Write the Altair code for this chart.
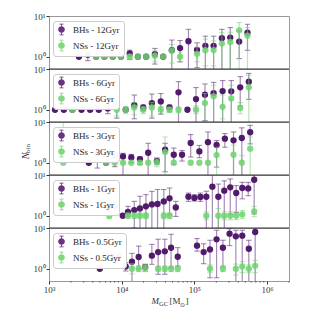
import altair as alt
import pandas as pd

SERIF = "Liberation Serif"
PURPLE = "#521a6b"
GREEN = "#6fd26f"
TXT = "#333333"

AGES = ["12Gyr", "6Gyr", "3Gyr", "1Gyr", "0.5Gyr"]

# ---------- 12 Gyr ----------
M_12 = [2580, 3420, 4450, 5780, 7530, 9770, 12900, 16700, 21700, 28600, 37200,
        48900, 63500, 82800, 108600, 141600, 183700, 238800, 311200, 413000, 537000]
BH_12 = [1.0, 1.12, 1.0, 1.0, 1.0, 1.0, 1.2, 1.0, 1.0, 1.16, 1.0, 1.45, 1.63, 2.4,
         1.48, 1.85, 1.85, 2.85, 2.95, 2.36, 3.9]
BH_12_LO = [None, 0.8, None, None, None, None, 0.85, None, None, 0.66, None, 0.3,
            0.75, 0.3, 0.54, 0.3, 0.3, 0.3, 0.3, 0.9, 1.44]
BH_12_HI = [None, 1.4, None, None, None, None, 1.45, None, None, 1.6, None, 2.57,
            2.5, 4.7, 2.2, 3.2, 3.2, 4.7, 5.2, 4.3, 6.25]
NS_12 = [None, None, 1.0, 1.0, 1.0, 1.0, 1.0, 1.0, 1.0, 1.06, 1.0, 1.4, 1.0, None,
         1.18, 1.44, 1.46, 2.1, 2.3, 4.45, 3.3]
NS_12_LO = [None, None, None, None, None, None, 0.88, None, None, 0.75, None, 0.7,
            0.75, None, 0.75, 0.6, 0.6, 0.3, 0.3, 0.3, 0.3]
NS_12_HI = [None, None, None, None, None, None, 1.15, None, None, 1.4, None, 2.0,
            1.3, None, 1.7, 2.7, 2.45, 3.9, 4.0, 6.9, 5.2]

# ---------- 6 Gyr ----------
M_6 = [1210, 1600, 2100, 2800, 3680, 4840, 6430, 8550, 11350, 14890, 19770, 26000,
       34500, 45500, 60400, 80200, 105200, 139600, 183700, 244300, 321400, 426600, 559800]
BH_6 = [1.0, 1.0, 1.0, 1.0, 1.0, 1.0, 1.08, 1.2, 1.0, 1.3, 1.14, 1.46, 1.6, 1.14,
        2.67, 1.0, 1.83, 2.34, 2.57, 2.87, 2.83, 3.54, 4.88]
BH_6_LO = [None, None, None, None, None, None, 0.8, 0.62, None, 0.6, 0.95, 0.62,
           0.78, 0.9, 0.3, None, 0.3, 0.54, 0.45, 0.3, 0.45, 1.25, 1.8]
BH_6_HI = [None, None, None, None, None, None, 1.33, 1.66, None, 2.3, 1.3, 2.43,
           2.5, 1.3, 4.9, None, 3.5, 4.3, 4.7, 5.2, 5.2, 6.5, 7.8]
NS_6 = [None, None, 1.0, None, None, None, None, 1.0, 1.0, 1.14, 1.0, 1.14, 1.0,
        1.0, 1.0, None, 1.0, 1.46, 2.13, 1.18, 1.9, 1.1, 3.54]
NS_6_LO = [None, None, None, None, None, None, None, 0.7, 0.8, 0.75, 0.8, 0.7, 0.8,
           0.85, 0.85, None, 0.8, 0.5, 0.3, 0.6, 0.3, 0.8, 0.3]
NS_6_HI = [None, None, None, None, None, None, None, 1.3, 1.2, 1.5, 1.2, 1.5, 1.2,
           1.15, 1.15, None, 1.25, 2.5, 4.0, 2.3, 4.0, 1.5, 7.0]

# ---------- 3 Gyr ----------
M_3 = [1570, 3530, 4630, 6100, 8020, 10420, 13550, 17820, 23120, 30480, 39540,
       52000, 67600, 88900, 116950, 153500, 201800, 262400, 345100, 448700, 584800]
BH_3 = [None, 1.0, 1.63, 1.0, 1.49, 1.43, 1.35, 1.23, 1.76, 1.1, 2.09, 1.57, 1.57,
        3.05, 1.9, 3.2, 2.72, 3.9, 3.54, 4.04, 5.6]
BH_3_LO = [None, None, 0.74, None, 0.8, 0.3, 1.0, 0.9, 0.3, 0.9, 0.6, 0.9, 1.1,
           1.38, 1.33, 0.3, 0.78, 2.4, 0.3, 0.3, 2.9]
BH_3_HI = [None, None, 2.9, None, 1.8, 1.7, 1.6, 1.4, 3.0, 1.3, 3.0, 2.3, 2.0,
           4.9, 2.66, 5.7, 3.5, 5.2, 5.7, 7.2, 8.3]
NS_3 = [1.0, None, None, 1.0, 1.0, 1.0, 1.0, 1.0, 1.0, 1.04, 1.83, 1.0, None, 1.0,
        1.0, 1.0, 1.54, None, 1.57, 1.0, 2.21]
NS_3_LO = [1.0, None, None, None, None, None, None, None, None, 0.8, 0.3, None,
           None, None, None, None, 0.3, None, 0.3, 0.3, 0.3]
NS_3_HI = [15.0, None, None, None, None, None, None, None, None, 1.35, 4.3, None,
           None, None, None, None, 2.4, None, 2.7, 1.5, 4.3]

# ---------- 1 Gyr ----------
M_1 = [6760, 8170, 10330, 12190, 14890, 17820, 21530, 26000, 31120, 37930, 45500,
       55460, 82800, 100000, 120800, 145900, 176600, 213300, 257600, 311200, 375800,
       455000, 549500, 663700]
BH_1 = [1.7, 1.7, 1.0, 1.25, 1.38, 1.51, 1.70, 1.90, 1.94, 2.25, 2.67, 1.60, 2.93,
        2.72, 2.88, 2.93, 5.17, 2.93, 4.12, 4.97, 3.61, 4.79, 4.69, 7.66]
BH_1_LO = [1.28, 1.28, None, 0.96, 0.5, 0.3, 0.3, 0.3, 0.3, 0.3, 1.06, 0.96, 2.25,
           2.3, 2.25, 0.3, 0.3, 0.3, 0.3, 1.1, 1.2, 2.6, 3.1, 1.1]
BH_1_HI = [2.25, 2.25, None, 1.7, 2.25, 3.0, 3.3, 3.96, 4.4, 4.4, 4.8, 2.25, 3.6,
           3.3, 3.6, 4.0, 12.0, 6.0, 7.2, 8.0, 5.5, 6.6, 6.6, 12.0]
NS_1 = [1.0, None, None, 1.0, 1.0, 1.0, 1.0, None, None, 1.0, 1.0, None, None, None,
        None, 1.0, None, 1.0, 1.0, 1.0, 1.0, 1.08, None, 1.28]
NS_1_LO = [0.85, None, None, 0.85, 0.85, 0.85, 0.85, None, None, 0.85, 0.85, None,
           None, None, None, 0.8, None, 0.5, 0.8, 0.8, 0.8, 0.85, None, 0.95]
NS_1_HI = [1.17, None, None, 1.17, 1.17, 1.17, 1.17, None, None, 1.17, 1.17, None,
           None, None, None, 1.25, None, 1.5, 1.25, 1.25, 1.25, 1.35, None, 1.7]

# ---------- 0.5 Gyr ----------
M_05 = [5000, 7600, 9100, 11350, 13840, 17100, 21040, 26000, 31700, 39170, 47750,
        59020, 108600, 134000, 163700, 201800, 246600, 304800, 371500, 455000,
        559800, 685500]
BH_05 = [1.0, 2.0, 2.0, 1.14, 1.49, 1.94, 1.1, 2.09, 2.57, 2.67, 3.28, 1.97, 3.68,
         2.57, 2.98, 5.26, 3.28, 7.25, 6.23, 6.47, 3.1, 7.97]
BH_05_LO = [None, 1.6, 1.6, 0.88, 0.3, 1.0, 0.88, 1.28, 0.73, 0.73, 1.06, 1.16, 2.7,
            1.33, 0.6, 0.6, 1.1, 3.7, 0.3, 0.3, 0.3, 0.3]
BH_05_HI = [None, 2.6, 2.6, 1.4, 2.38, 3.6, 1.28, 3.96, 5.3, 5.3, 7.0, 3.3, 5.5,
            4.1, 5.0, 8.8, 5.0, 9.6, 8.8, 8.8, 5.0, 12.0]
NS_05 = [None, None, None, None, 1.0, 1.0, 1.06, None, 1.0, 1.0, 1.0, 1.0, None,
         None, 1.0, None, 1.0, None, 1.0, 1.14, 1.0, 1.18]
NS_05_LO = [None, None, None, None, 0.75, 0.85, 0.85, None, 0.85, 0.85, 0.85, 0.85,
            None, None, 0.8, None, 0.85, None, 0.7, 0.8, 0.8, 0.8]
NS_05_HI = [None, None, None, None, 1.33, 1.2, 1.3, None, 1.17, 1.17, 1.17, 1.17,
            None, None, 1.25, None, 1.2, None, 1.3, 1.5, 1.25, 1.6]

PANELS = [
    (M_12, BH_12, BH_12_LO, BH_12_HI, NS_12, NS_12_LO, NS_12_HI),
    (M_6, BH_6, BH_6_LO, BH_6_HI, NS_6, NS_6_LO, NS_6_HI),
    (M_3, BH_3, BH_3_LO, BH_3_HI, NS_3, NS_3_LO, NS_3_HI),
    (M_1, BH_1, BH_1_LO, BH_1_HI, NS_1, NS_1_LO, NS_1_HI),
    (M_05, BH_05, BH_05_LO, BH_05_HI, NS_05, NS_05_LO, NS_05_HI),
]

X_TICKS = [1000, 10000, 100000, 1000000]
X_LABELS = ["10³", "10⁴", "10⁵", "10⁶"]
X_MINOR = [2000, 3000, 4000, 5000, 6000, 7000, 8000, 9000,
           20000, 30000, 40000, 50000, 60000, 70000, 80000, 90000,
           200000, 300000, 400000, 500000, 600000, 700000, 800000, 900000,
           2000000]
Y_TICKS = [1, 10]
Y_LABELS = ["10⁰", "10¹"]

W, H = 240, 53
X_DOMAIN = [1000, 2000000]
Y_DOMAIN = [0.5, 10]

SYMBOL = ("M1,0A1,1,0,1,1,-1,0A1,1,0,1,1,1,0Z "
          "M-0.12,-1.6L0.12,-1.6L0.12,1.6L-0.12,1.6Z "
          "M-0.6,-1.7L0.6,-1.7L0.6,-1.52L-0.6,-1.52Z "
          "M-0.6,1.52L0.6,1.52L0.6,1.7L-0.6,1.7Z")


def label_expr(vals, labs):
    expr = "''"
    for v, l in reversed(list(zip(vals, labs))):
        expr = f"datum.value == {v} ? '{l}' : ({expr})"
    return expr


def text_piece(text, x, y, size, italic=False, angle=0, align="left", baseline="alphabetic"):
    return alt.Chart(pd.DataFrame({"t": [text]})).mark_text(
        fontSize=size, font=SERIF, fontStyle="italic" if italic else "normal",
        angle=angle, align=align, baseline=baseline, color=TXT
    ).encode(x=alt.value(x), y=alt.value(y), text="t:N")


def panel(idx):
    m, bh, bh_lo, bh_hi, ns, ns_lo, ns_hi = PANELS[idx]
    age = AGES[idx]
    rows = []
    for i, x in enumerate(m):
        for kind, v, lo, hi in (("BHs", bh[i], bh_lo[i], bh_hi[i]),
                                ("NSs", ns[i], ns_lo[i], ns_hi[i])):
            if v is None:
                continue
            rows.append(dict(m=x, n=v, lo=lo, hi=hi, kind=kind, series=f"{kind} - {age}"))
    df = pd.DataFrame(rows)

    bottom = idx == len(AGES) - 1
    xs = alt.Scale(type="log", domain=X_DOMAIN, nice=False)
    ys = alt.Scale(type="log", domain=Y_DOMAIN, nice=False)
    if bottom:
        xax = alt.Axis(values=X_TICKS, labelExpr=label_expr(X_TICKS, X_LABELS), title=None,
                       grid=False, domain=False, tickSize=3, tickColor=TXT, labelFlush=False,
                       labelFont=SERIF, labelFontSize=9, labelColor=TXT, labelPadding=1,
                       labelOverlap=False)
    else:
        xax = None
    yax = alt.Axis(values=Y_TICKS, labelExpr=label_expr(Y_TICKS, Y_LABELS), title=None,
                   grid=False, domain=False, tickSize=3, tickColor=TXT, labelFlush=False,
                   labelFont=SERIF, labelFontSize=9, labelColor=TXT, labelPadding=1,
                   labelOverlap=False)
    X = alt.X("m:Q", scale=xs, axis=xax)
    legend = alt.Legend(title=None, orient="none", legendX=4, legendY=5,
                        fillColor="rgba(255,255,255,0.8)", strokeColor="#cccccc",
                        cornerRadius=3, padding=4, labelFont=SERIF, labelFontSize=9,
                        labelColor=TXT, symbolType=SYMBOL, symbolSize=44,
                        symbolStrokeWidth=0, rowPadding=3, labelOffset=7)
    color = alt.Color("series:N", legend=legend,
                      scale=alt.Scale(domain=[f"BHs - {age}", f"NSs - {age}"],
                                      range=[PURPLE, GREEN]))
    base = alt.Chart(df)
    layers = []
    for kind, col, op in (("BHs", PURPLE, 1.0), ("NSs", GREEN, 0.85)):
        sub = base.transform_filter(f"datum.kind == '{kind}'")
        err = sub.transform_filter("isValid(datum.lo)")
        layers.append(err.mark_rule(color=col, opacity=0.5, strokeWidth=1.2, clip=True).encode(
            x=X, y=alt.Y("lo:Q", scale=ys, axis=yax), y2="hi:Q"))
        for f in ("lo", "hi"):
            layers.append(err.mark_tick(orient="horizontal", color=col, opacity=0.5, size=5.5,
                                        thickness=1.1, clip=True).encode(
                x=X, y=alt.Y(f"{f}:Q", scale=ys, axis=yax)))
        layers.append(sub.mark_circle(size=40, opacity=op, clip=True).encode(
            x=X, y=alt.Y("n:Q", scale=ys, axis=yax), color=color))

    if idx > 0:
        layers.append(alt.Chart(pd.DataFrame({"t": [0]})).mark_rule(color="#333333", strokeWidth=1).encode(
            x=alt.value(0), x2=alt.value(W), y=alt.value(0)))
    if idx == 2:
        layers.append(text_piece("N", -23.5, 34, 10, italic=True, angle=270, align="center", baseline="middle"))
        layers.append(text_piece("bin", -21.5, 26.5, 7, angle=270, align="center", baseline="middle"))
    if bottom:
        layers.append(alt.Chart(pd.DataFrame({"mm": X_MINOR})).mark_rule(color=TXT, strokeWidth=0.6).encode(
            x=alt.X("mm:Q", scale=xs, axis=xax), y=alt.value(H), y2=alt.value(H + 1.8)))
        layers.append(text_piece("M", 102.5, 76, 9, italic=True))
        layers.append(text_piece("GC", 110, 78, 6.5))
        layers.append(text_piece("[M", 120.5, 76, 9))
        layers.append(text_piece("⊙", 131, 78.5, 6))
        layers.append(text_piece("]", 136.5, 76, 9))

    return alt.layer(*layers).properties(width=W, height=H).resolve_scale(color="independent")


chart = alt.vconcat(*[panel(i) for i in range(len(AGES))], spacing=0, bounds="flush").resolve_scale(
    color="independent").resolve_legend(color="independent").configure_view(
    stroke="#999999", strokeWidth=1).properties(
    padding={"left": 12, "top": 3, "right": 5, "bottom": 5})

chart.save("out.html", embed_options={"renderer": "svg", "actions": False})
